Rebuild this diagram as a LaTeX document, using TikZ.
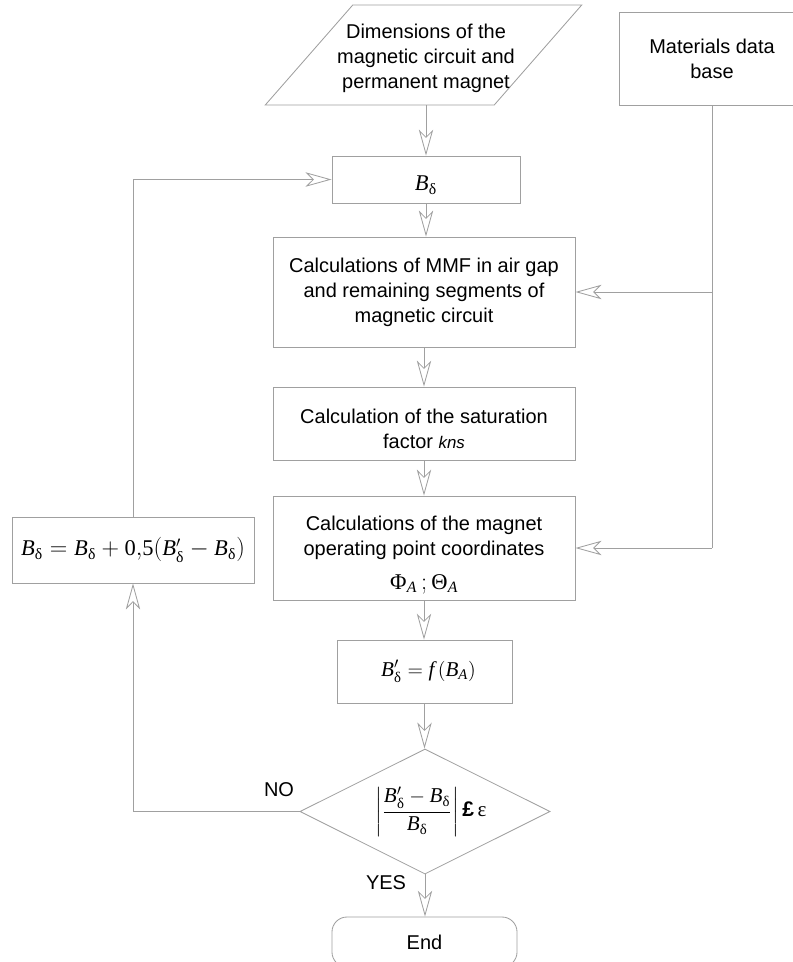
\documentclass[tikz,border=0pt]{standalone}
\usepackage{amsmath}
\usepackage{mathspec}
\setmainfont{Liberation Sans}
\newfontfamily\serifgr{Liberation Serif}
\setmathsfont(Digits,Latin)[Numbers={Lining,Proportional}]{Liberation Serif}
\setmathsfont(Greek)[Uppercase=Regular,Lowercase=Regular]{Liberation Serif}
\usetikzlibrary{arrows.meta, shapes.geometric, calc}
\definecolor{flow_gray}{RGB}{160, 160, 160}

\begin{document}
\begin{tikzpicture}[x=0.025cm, y=-0.025cm,
    box/.style={draw=flow_gray, line width=0.6pt, rectangle, align=center,
      inner sep=0pt, font=\fontsize{14.2}{17.8}\selectfont},
    plain/.style={align=center, inner sep=0pt, font=\fontsize{14.2}{17.8}\selectfont},
    formula/.style={font=\fontsize{16}{19}\selectfont},
    flow/.style={draw=flow_gray, line width=0.6pt,
      -{Stealth[open, length=6.5mm, width=3.6mm, inset=1.8mm]}},
    link/.style={draw=flow_gray, line width=0.6pt},
    tag/.style={font=\fontsize{14.2}{17}\selectfont}]
  \useasboundingbox (0,0) rectangle (792,962);

  % --- Inputs ---
  \node[box, trapezium, trapezium left angle=57, trapezium right angle=123,
    trapezium stretches=true, minimum width=7.925cm, minimum height=2.5cm]
    (dims) at (423.5,55) {\phantom{D}};
  \node[plain] (dimstext) at (426,58) {Dimensions of the\\magnetic circuit and\\ permanent magnet};
  \node[box, minimum width=4.65cm, minimum height=2.325cm] (matdb) at (712,58.5)
    {Materials data\\base};

  % --- Main column ---
  \node[box, formula, minimum width=4.7cm, minimum height=1.175cm] (bdelta) at (426,179.5)
    {\raisebox{-0.15cm}[\height][\depth]{$B_{\delta}$}};
  \node[box, minimum width=7.55cm, minimum height=2.75cm] (mmf) at (424,292)
    {Calculations of MMF in air gap\\and remaining segments of\\magnetic circuit};
  \node[box, minimum width=7.55cm, minimum height=1.825cm] (sat) at (424,423.5) {};
  \node[plain] (sattext) at (424,429)
    {Calculation of the saturation\\factor {\fontsize{12}{14}\selectfont\itshape kns}};
  \node[box, minimum width=7.55cm, minimum height=2.6cm] (magnet) at (424,548) {};
  \node[plain] (magnettext) at (424,555)
    {Calculations of the magnet\\operating point coordinates\\[6pt]
     {\fontsize{16}{19}\selectfont$\Phi_{A}\,;\Theta_{A}$}};
  \node[box, font=\fontsize{15}{18}\selectfont, minimum width=4.375cm, minimum height=1.575cm]
    (bprime) at (424.5,671.5) {\hspace*{0.2cm}$B^{\prime}_{\delta} = f\,(B_{A})$};
  \node[box, diamond, shape aspect=2, font=\fontsize{15}{18}\selectfont,
    minimum width=6.25cm, minimum height=3.125cm] (check) at (425,811.5)
    {\hspace*{0.3cm}$\left|\dfrac{B^{\prime}_{\delta}-B_{\delta}}{B_{\delta}}\right|$\,\textbf{£}\,{\serifgr ε}};
  \node[box, rounded corners=0.375cm, minimum width=4.625cm, minimum height=1.25cm] (end) at (424.5,942)
    {End};

  % --- Correction loop ---
  \node[box, formula, minimum width=6.05cm, minimum height=1.65cm] (update) at (133,550)
    {$B_{\delta}=B_{\delta}+0{,}5(B^{\prime}_{\delta}-B_{\delta})$};

  % Arrows down the main column
  \draw[flow] (bdelta.north |- dims.south) -- (bdelta.north);
  \draw[flow] (bdelta.south) -- (mmf.north -| bdelta.south);
  \draw[flow] (mmf.south) -- (sat.north);
  \draw[flow] (sat.south) -- (magnet.north);
  \draw[flow] (magnet.south) -- (bprime.north -| magnet.south);
  \draw[flow] (bprime.south) -- (check.north -| bprime.south);
  \draw[flow] (check.south) -- (end.north -| check.south);

  % Material data feeds
  \coordinate (tap) at (matdb.south |- mmf.east);
  \coordinate (tapend) at (matdb.south |- magnet.east);
  \draw[link] (matdb.south) -- (tapend);
  \draw[flow] (tap) -- (mmf.east);
  \draw[flow] (tapend) -- (magnet.east);

  % Loop back
  \draw[flow] (check.west) -| (update.south);
  \draw[flow] (update.north) |- (bdelta.west);

  \node[tag] (no) at (279,790) {NO};
  \node[tag] (yes) at (386,883) {YES};
\end{tikzpicture}
\end{document}
